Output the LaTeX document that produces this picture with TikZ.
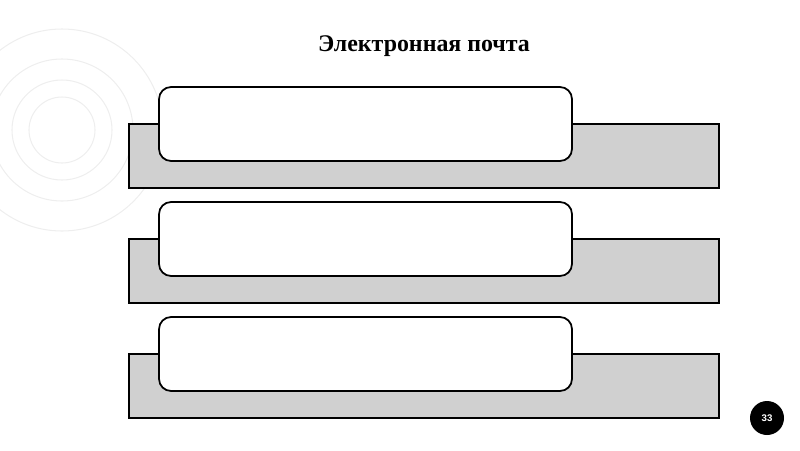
\documentclass[tikz,border=0pt]{standalone}
\usepackage{fontspec}
\setmainfont{Liberation Serif}
\setsansfont{Liberation Sans}
\usetikzlibrary{positioning}
\definecolor{BarGray}{RGB}{208, 208, 208}
\definecolor{RingGray}{RGB}{238, 238, 238}

\begin{document}
\begin{tikzpicture}[x=0.02cm, y=-0.02cm,
    bar/.style={draw=black, line width=1pt, fill=BarGray, minimum width=11.8cm, minimum height=1.28cm, inner sep=0pt},
    card/.style={draw=black, line width=1pt, fill=white, rounded corners=0.24cm, minimum width=8.26cm, minimum height=1.48cm, inner sep=0pt},
    ring/.style={draw=RingGray, line width=0.6pt}]
        \useasboundingbox (0,0) rectangle (800,450);
        % decorative rings
        \coordinate (rc) at (62,130);
        \draw[ring] (rc) circle (33);
        \draw[ring] (rc) circle (50);
        \draw[ring] (rc) circle (71);
        \draw[ring] (rc) circle (101);
        % title
        \node[font=\fontsize{13.6}{16}\selectfont\bfseries] (title) at (424,46) {Электронная почта};
        % bars with cards
        \node[bar] (bar1) at (424,156) {};
        \node[card] (card1) at (365.5,124) {};
        \node[bar] (bar2) at (424,271) {};
        \node[card] (card2) at (365.5,239) {};
        \node[bar] (bar3) at (424,386) {};
        \node[card] (card3) at (365.5,354) {};
        % page number
        \node[circle, fill=black, text=white, minimum size=0.68cm, inner sep=0pt, font=\sffamily\bfseries\fontsize{5.5}{6}\selectfont] (page) at (767,418) {33};
    \end{tikzpicture}
\end{document}
